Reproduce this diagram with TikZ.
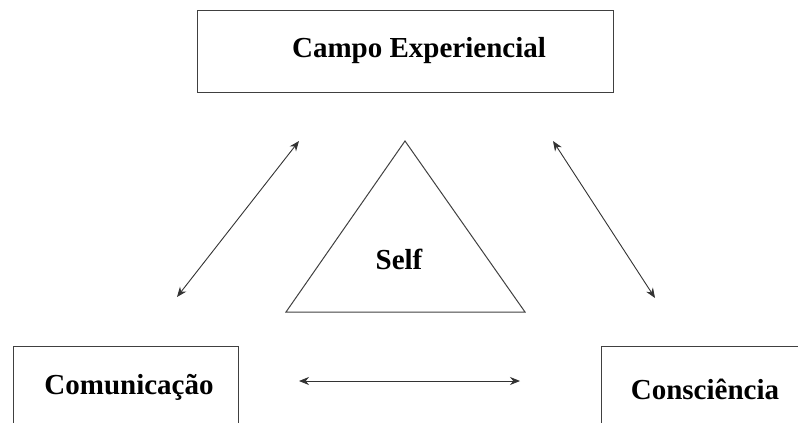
\documentclass[tikz,border=0pt]{standalone}
\usepackage{fontspec}
\setmainfont{Liberation Serif}
\usetikzlibrary{arrows.meta}
\begin{document}
\begin{tikzpicture}[x=1pt,y=-1pt,
  box/.style={draw=black!75, line width=1pt, fill=white, inner sep=0pt},
  label/.style={font=\fontsize{29}{30}\selectfont\bfseries, anchor=base, inner sep=0pt},
  link/.style={draw=black!80, line width=0.9pt,
    {Stealth[length=10pt,width=8pt]}-{Stealth[length=10pt,width=8pt]}}]
\useasboundingbox (0,0) rectangle (798,423);
\clip (0,0) rectangle (798,423);
% boxes
\node[box, minimum width=416pt, minimum height=82pt] (campo) at (405,51) {};
\node[box, minimum width=225pt, minimum height=104pt] (com) at (125.5,398) {};
\node[box, minimum width=219pt, minimum height=104pt] (cons) at (710.5,398) {};
% triangle
\coordinate (tA) at (405,141);
\coordinate (tB) at (525,312);
\coordinate (tC) at (286,312);
\draw[draw=black!75, line width=1pt] (tA) -- (tB) -- (tC) -- cycle;
% labels
\node[label] (campoT) at (419,57) {Campo Experiencial};
\node[label] (comT) at (129,394) {Comunicação};
\node[label] (consT) at (705,399) {Consciência};
\node[label] (selfT) at (399,269) {Self};
% connectors
\coordinate (l1) at (177,297);
\coordinate (l2) at (299,141);
\coordinate (r1) at (553,141);
\coordinate (r2) at (655,298);
\coordinate (b1) at (299,381);
\coordinate (b2) at (520,381);
\draw[link] (l1) -- (l2);
\draw[link] (r1) -- (r2);
\draw[link] (b1) -- (b2);
\end{tikzpicture}
\end{document}
